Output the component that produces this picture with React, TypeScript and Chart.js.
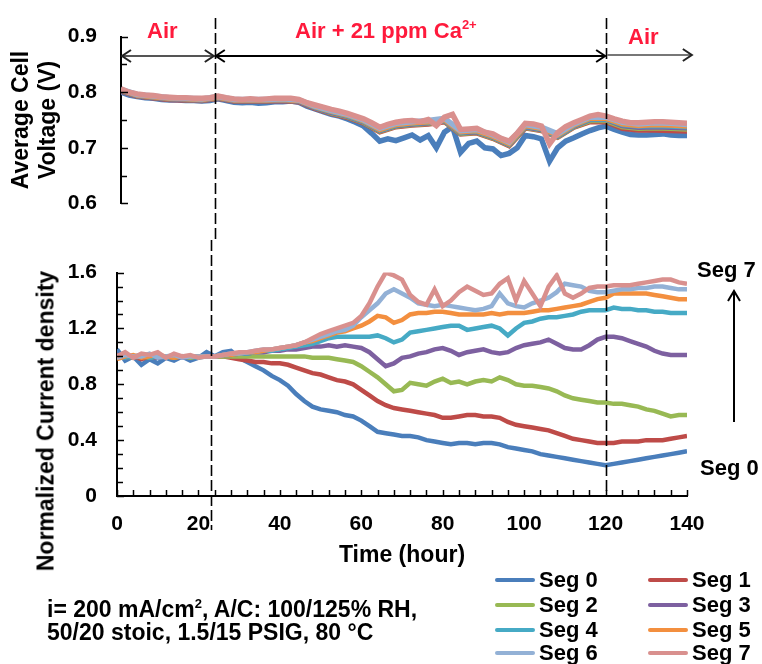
import React, { useEffect, useRef } from 'react';
import { Chart, registerables } from 'chart.js';

Chart.register(...registerables);
Chart.defaults.font.family = "'Liberation Sans', Arial, sans-serif";
Chart.defaults.color = '#000';

// ---------- data ----------
const hours = [0, 2, 4, 6, 8, 10, 12, 14, 16, 18, 20, 22, 24, 26, 28, 30, 32, 34, 36, 38, 40, 42, 44, 46, 48, 50, 52, 54, 56, 58, 60, 62, 64, 66, 68, 70, 72, 74, 76, 78, 80, 82, 84, 86, 88, 90, 92, 94, 96, 98, 100, 102, 104, 106, 108, 110, 112, 114, 116, 118, 120, 122, 124, 126, 128, 130, 132, 134, 136, 138, 140];
const hoursCoarse = [0, 4, 8, 12, 16, 20, 24, 28, 32, 36, 40, 44, 48, 52, 56, 60, 64, 68, 72, 76, 80, 84, 88, 92, 96, 100, 104, 108, 112, 116, 120, 124, 128, 132, 136, 140];

const segNames = ['Seg 0', 'Seg 1', 'Seg 2', 'Seg 3', 'Seg 4', 'Seg 5', 'Seg 6', 'Seg 7'];
const segColors = ['#4a7ebb', '#be4b48', '#98b954', '#7d60a0', '#46aac5', '#f38f3f', '#93b1d6', '#d9908e'];

// Normalized current density (bottom panel), sampled every 2 h
const current0 = [1.05, 0.97, 1.00, 0.94, 0.98, 0.95, 0.99, 0.97, 1.00, 0.97,
  0.99, 1.03, 1.00, 1.03, 1.04, 0.99, 0.96, 0.93, 0.90, 0.86,
  0.83, 0.79, 0.73, 0.68, 0.64, 0.62, 0.61, 0.60, 0.58, 0.57,
  0.54, 0.50, 0.46, 0.45, 0.44, 0.43, 0.43, 0.42, 0.40, 0.39,
  0.38, 0.37, 0.38, 0.38, 0.37, 0.38, 0.38, 0.37, 0.35, 0.34,
  0.33, 0.32, 0.30, 0.29, 0.28, 0.27, 0.26, 0.25, 0.24, 0.23,
  0.22, 0.23, 0.24, 0.25, 0.26, 0.27, 0.28, 0.29, 0.30, 0.31,
  0.32];
const current1 = [1.01, 0.99, 1.00, 0.98, 1.00, 0.99, 1.00, 0.99, 1.00, 1.00,
  1.00, 1.00, 1.00, 1.00, 0.99, 0.98, 0.97, 0.96, 0.96, 0.95,
  0.95, 0.94, 0.92, 0.90, 0.88, 0.87, 0.85, 0.83, 0.82, 0.80,
  0.76, 0.72, 0.68, 0.65, 0.63, 0.62, 0.61, 0.60, 0.59, 0.58,
  0.56, 0.56, 0.57, 0.58, 0.58, 0.57, 0.57, 0.56, 0.53, 0.51,
  0.50, 0.49, 0.48, 0.47, 0.45, 0.43, 0.41, 0.40, 0.39, 0.38,
  0.38, 0.38, 0.39, 0.39, 0.39, 0.40, 0.40, 0.40, 0.41, 0.42,
  0.43];
const current2 = [0.99, 1.00, 0.99, 1.00, 0.99, 1.00, 1.00, 0.99, 1.00, 0.99,
  1.00, 1.00, 1.00, 1.00, 1.00, 1.00, 1.00, 1.00, 1.00, 1.00,
  1.00, 1.00, 1.00, 1.00, 0.99, 0.99, 0.99, 0.98, 0.97, 0.96,
  0.93, 0.89, 0.85, 0.80, 0.75, 0.76, 0.81, 0.80, 0.79, 0.82,
  0.84, 0.81, 0.82, 0.80, 0.82, 0.83, 0.82, 0.85, 0.83, 0.80,
  0.79, 0.79, 0.78, 0.77, 0.75, 0.72, 0.70, 0.69, 0.68, 0.67,
  0.67, 0.66, 0.66, 0.65, 0.64, 0.62, 0.61, 0.59, 0.57, 0.58,
  0.58];
const current3 = [1.00, 1.01, 0.99, 1.00, 1.00, 0.99, 1.00, 1.00, 0.99, 1.00,
  1.00, 1.00, 1.00, 1.01, 1.01, 1.02, 1.02, 1.03, 1.03, 1.04,
  1.04, 1.05, 1.05, 1.06, 1.07, 1.07, 1.08, 1.07, 1.08, 1.07,
  1.06, 1.03, 0.98, 0.93, 0.95, 0.99, 1.00, 1.02, 1.03, 1.05,
  1.06, 1.04, 1.01, 1.03, 1.04, 1.05, 1.03, 1.02, 1.03, 1.06,
  1.08, 1.09, 1.10, 1.12, 1.09, 1.06, 1.05, 1.05, 1.08, 1.12,
  1.14, 1.14, 1.13, 1.11, 1.09, 1.07, 1.04, 1.02, 1.01, 1.01,
  1.01];
const current4 = [1.00, 0.99, 1.00, 1.01, 0.99, 1.00, 0.99, 1.00, 1.00, 1.00,
  0.99, 1.00, 1.00, 1.01, 1.01, 1.02, 1.02, 1.03, 1.04, 1.04,
  1.05, 1.06, 1.07, 1.08, 1.09, 1.11, 1.13, 1.14, 1.14, 1.14,
  1.14, 1.14, 1.15, 1.13, 1.10, 1.12, 1.17, 1.18, 1.19, 1.20,
  1.21, 1.22, 1.22, 1.19, 1.20, 1.21, 1.22, 1.20, 1.15, 1.20,
  1.24, 1.25, 1.27, 1.28, 1.28, 1.29, 1.30, 1.32, 1.33, 1.33,
  1.33, 1.35, 1.34, 1.34, 1.33, 1.33, 1.32, 1.32, 1.31, 1.31,
  1.31];
const current5 = [0.98, 1.00, 1.01, 0.99, 1.00, 1.01, 1.00, 0.99, 1.00, 1.00,
  1.00, 1.00, 1.00, 1.01, 1.01, 1.02, 1.03, 1.03, 1.04, 1.05,
  1.06, 1.07, 1.08, 1.10, 1.11, 1.13, 1.15, 1.17, 1.18, 1.20,
  1.22, 1.25, 1.29, 1.28, 1.24, 1.26, 1.30, 1.31, 1.31, 1.32,
  1.32, 1.31, 1.30, 1.30, 1.30, 1.30, 1.31, 1.30, 1.31, 1.31,
  1.31, 1.32, 1.33, 1.33, 1.34, 1.35, 1.36, 1.37, 1.39, 1.41,
  1.42, 1.45, 1.45, 1.45, 1.45, 1.45, 1.44, 1.43, 1.42, 1.41,
  1.41];
const current6 = [0.99, 1.01, 1.00, 1.00, 1.02, 0.99, 1.00, 1.01, 0.99, 1.00,
  1.00, 1.00, 1.00, 1.01, 1.02, 1.02, 1.03, 1.04, 1.05, 1.05,
  1.06, 1.07, 1.08, 1.10, 1.12, 1.14, 1.16, 1.18, 1.19, 1.22,
  1.28, 1.33, 1.38, 1.45, 1.48, 1.45, 1.42, 1.38, 1.37, 1.36,
  1.37, 1.36, 1.35, 1.34, 1.33, 1.34, 1.36, 1.45, 1.38, 1.36,
  1.35, 1.38, 1.40, 1.42, 1.46, 1.52, 1.51, 1.50, 1.47, 1.46,
  1.46, 1.47, 1.48, 1.48, 1.49, 1.49, 1.50, 1.50, 1.49, 1.48,
  1.48];
const current7 = [1.00, 1.03, 0.99, 1.02, 1.01, 1.03, 0.99, 1.02, 1.00, 1.01,
  0.99, 1.00, 1.00, 1.01, 1.02, 1.03, 1.03, 1.04, 1.05, 1.05,
  1.06, 1.07, 1.08, 1.10, 1.13, 1.16, 1.18, 1.20, 1.22, 1.24,
  1.29, 1.38, 1.50, 1.60, 1.58, 1.55, 1.44, 1.39, 1.37, 1.48,
  1.36, 1.40, 1.46, 1.50, 1.47, 1.44, 1.45, 1.52, 1.56, 1.40,
  1.54, 1.45, 1.36, 1.50, 1.58, 1.45, 1.42, 1.45, 1.49, 1.50,
  1.50, 1.51, 1.51, 1.51, 1.52, 1.53, 1.54, 1.55, 1.55, 1.53,
  1.52];

// Average cell voltage (top panel): Seg 0 and Seg 7 every 2 h, others every 4 h
const voltage0 = [0.800, 0.795, 0.792, 0.790, 0.789, 0.787, 0.786, 0.786, 0.785, 0.785,
  0.784, 0.785, 0.788, 0.785, 0.782, 0.781, 0.782, 0.780, 0.781, 0.783,
  0.783, 0.784, 0.782, 0.775, 0.770, 0.765, 0.760, 0.757, 0.752, 0.746,
  0.739, 0.726, 0.712, 0.716, 0.713, 0.718, 0.723, 0.714, 0.722, 0.700,
  0.728, 0.738, 0.692, 0.708, 0.712, 0.700, 0.698, 0.686, 0.690, 0.700,
  0.722, 0.720, 0.716, 0.676, 0.700, 0.712, 0.718, 0.725, 0.731, 0.736,
  0.739, 0.733, 0.728, 0.724, 0.723, 0.723, 0.724, 0.725, 0.723, 0.722,
  0.722];
const voltage7 = [0.806, 0.800, 0.797, 0.795, 0.794, 0.792, 0.791, 0.790, 0.790, 0.789,
  0.789, 0.790, 0.793, 0.790, 0.788, 0.787, 0.788, 0.787, 0.788, 0.789,
  0.789, 0.789, 0.787, 0.781, 0.777, 0.773, 0.769, 0.766, 0.762, 0.757,
  0.752, 0.745, 0.737, 0.742, 0.746, 0.748, 0.749, 0.747, 0.751, 0.740,
  0.755, 0.760, 0.733, 0.734, 0.735, 0.728, 0.725, 0.717, 0.712, 0.726,
  0.744, 0.743, 0.739, 0.707, 0.727, 0.738, 0.745, 0.751, 0.757, 0.760,
  0.757, 0.752, 0.748, 0.745, 0.745, 0.746, 0.747, 0.747, 0.746, 0.745,
  0.744];
const voltage1 = [0.802, 0.793, 0.790, 0.787, 0.786, 0.785, 0.789, 0.784, 0.784, 0.784, 0.785, 0.783,
  0.771, 0.762, 0.755, 0.745, 0.729, 0.738, 0.741, 0.743, 0.747, 0.725, 0.727, 0.717, 0.704, 0.736, 0.731, 0.719, 0.737, 0.747, 0.747, 0.735, 0.732, 0.732, 0.731, 0.730];
const voltage2 = [0.803, 0.794, 0.791, 0.788, 0.787, 0.786, 0.790, 0.785, 0.785, 0.785, 0.786, 0.784,
  0.772, 0.763, 0.756, 0.746, 0.730, 0.739, 0.742, 0.744, 0.748, 0.726, 0.728, 0.718, 0.705, 0.737, 0.732, 0.720, 0.738, 0.749, 0.749, 0.738, 0.735, 0.736, 0.735, 0.734];
const voltage3 = [0.803, 0.794, 0.791, 0.788, 0.787, 0.786, 0.790, 0.785, 0.785, 0.785, 0.786, 0.784,
  0.772, 0.764, 0.757, 0.747, 0.731, 0.740, 0.743, 0.745, 0.749, 0.727, 0.729, 0.719, 0.706, 0.738, 0.733, 0.721, 0.739, 0.751, 0.751, 0.740, 0.737, 0.738, 0.737, 0.736];
const voltage4 = [0.804, 0.795, 0.792, 0.789, 0.788, 0.787, 0.791, 0.786, 0.786, 0.786, 0.787, 0.785,
  0.773, 0.765, 0.758, 0.748, 0.732, 0.741, 0.744, 0.746, 0.750, 0.728, 0.730, 0.720, 0.707, 0.739, 0.734, 0.722, 0.740, 0.752, 0.752, 0.742, 0.739, 0.740, 0.739, 0.738];
const voltage5 = [0.804, 0.795, 0.792, 0.789, 0.788, 0.787, 0.791, 0.786, 0.786, 0.786, 0.787, 0.785,
  0.774, 0.766, 0.759, 0.749, 0.733, 0.742, 0.745, 0.747, 0.751, 0.729, 0.731, 0.721, 0.708, 0.740, 0.735, 0.723, 0.741, 0.753, 0.753, 0.743, 0.740, 0.742, 0.741, 0.739];
const voltage6 = [0.805, 0.796, 0.793, 0.790, 0.789, 0.788, 0.792, 0.787, 0.787, 0.787, 0.788, 0.786,
  0.775, 0.767, 0.760, 0.750, 0.735, 0.744, 0.747, 0.749, 0.753, 0.731, 0.733, 0.723, 0.710, 0.742, 0.737, 0.725, 0.743, 0.755, 0.755, 0.746, 0.743, 0.745, 0.744, 0.742];

const currentSeries = [current0, current1, current2, current3, current4, current5, current6, current7];
const voltageSeries = [voltage0, voltage1, voltage2, voltage3, voltage4, voltage5, voltage6, voltage7];
const voltageHours = [hours, hoursCoarse, hoursCoarse, hoursCoarse, hoursCoarse, hoursCoarse, hoursCoarse, hours];

const phaseBoundaries = [23.2, 120];
const phaseArrowEnd = 141.2;

const FONT = "'Liberation Sans', Arial, sans-serif";
const RED = '#ff1a3c';

const isMultiple = (v: number, step: number) => Math.abs(v / step - Math.round(v / step)) < 1e-6;

function makeDatasets(series: number[][], xs: number[][], width: number) {
  return series.map((vals, i) => ({
    label: segNames[i],
    data: vals.map((v, j) => ({ x: xs[i][j], y: v })),
    borderColor: segColors[i],
    backgroundColor: segColors[i],
    borderWidth: width,
    pointRadius: 0,
    tension: 0,
    fill: false,
    order: 7 - i,
  }));
}

function drawInsideTicks(chart: any, yMajor: number, withX: boolean) {
  const ctx = chart.ctx;
  const { left, bottom } = chart.chartArea;
  ctx.save();
  ctx.strokeStyle = '#000';
  ctx.lineWidth = 1.5;
  const ys = chart.scales.y;
  ys.ticks.forEach((t: any) => {
    const p = Math.round(ys.getPixelForValue(t.value)) + 0.5;
    const len = isMultiple(t.value, yMajor) ? 7 : 6;
    ctx.beginPath();
    ctx.moveTo(left, p);
    ctx.lineTo(left + len, p);
    ctx.stroke();
  });
  if (withX) {
    const xs = chart.scales.x;
    xs.ticks.forEach((t: any) => {
      const p = Math.round(xs.getPixelForValue(t.value)) + 0.5;
      ctx.beginPath();
      ctx.moveTo(p, bottom);
      ctx.lineTo(p, bottom - 6);
      ctx.stroke();
    });
  }
  ctx.restore();
}

function drawDashed(chart: any, x: number, y0: number, y1: number) {
  const ctx = chart.ctx;
  const px = Math.round(chart.scales.x.getPixelForValue(x)) + 0.5;
  ctx.save();
  ctx.strokeStyle = '#000';
  ctx.lineWidth = 1.6;
  ctx.setLineDash([11, 4]);
  ctx.beginPath();
  ctx.moveTo(px, y0);
  ctx.lineTo(px, y1);
  ctx.stroke();
  ctx.restore();
}

function arrowHead(ctx: any, x: number, y: number, dir: number) {
  ctx.beginPath();
  ctx.moveTo(x - dir * 9, y - 6);
  ctx.lineTo(x, y);
  ctx.lineTo(x - dir * 9, y + 6);
  ctx.stroke();
}

const topOverlay = {
  id: 'topOverlay',
  afterDraw(chart: any) {
    drawInsideTicks(chart, 0.1, false);
    phaseBoundaries.forEach((b) => drawDashed(chart, b, 18, 240));
    const ctx = chart.ctx;
    const xs = chart.scales.x;
    const a0 = xs.getPixelForValue(0);
    const a1 = xs.getPixelForValue(phaseBoundaries[0]);
    const a2 = xs.getPixelForValue(phaseBoundaries[1]);
    const a3 = xs.getPixelForValue(phaseArrowEnd);
    ctx.save();
    ctx.lineWidth = 2;
    ctx.lineJoin = 'miter';
    ctx.strokeStyle = '#555';
    ctx.beginPath(); ctx.moveTo(a0 + 1, 56); ctx.lineTo(a1 - 1, 56); ctx.stroke();
    ctx.strokeStyle = '#222';
    arrowHead(ctx, a0 + 1, 56, -1);
    arrowHead(ctx, a1 - 1, 56, 1);
    ctx.strokeStyle = '#000';
    ctx.beginPath(); ctx.moveTo(a1 + 1, 56); ctx.lineTo(a2 - 1, 56); ctx.stroke();
    arrowHead(ctx, a1 + 1, 56, -1);
    arrowHead(ctx, a2 - 1, 56, 1);
    ctx.strokeStyle = '#777';
    ctx.beginPath(); ctx.moveTo(a2 + 1, 55); ctx.lineTo(a3, 55); ctx.stroke();
    ctx.strokeStyle = '#222';
    arrowHead(ctx, a3, 55, 1);
    ctx.restore();
  },
};

const bottomOverlay = {
  id: 'bottomOverlay',
  afterDraw(chart: any) {
    drawInsideTicks(chart, 0.4, true);
    drawDashed(chart, phaseBoundaries[0], 0, 290);
    drawDashed(chart, phaseBoundaries[1], 0, 257);
  },
};

const tickFont = { family: FONT, size: 21, weight: 'bold' as const };
const titleFont = { family: FONT, size: 23, weight: 'bold' as const };

function topConfig(): any {
  return {
    type: 'line',
    data: { datasets: makeDatasets(voltageSeries, voltageHours, 5.5) },
    plugins: [topOverlay],
    options: {
      responsive: false,
      animation: false,
      events: [],
      layout: { padding: { top: 21, right: 75, bottom: 29, left: 0 } },
      plugins: { legend: { display: false }, tooltip: { enabled: false } },
      scales: {
        x: { type: 'linear', min: 0, max: 140, display: false },
        y: {
          type: 'linear',
          min: 0.6,
          max: 0.9,
          afterFit: (s: any) => { s.width = 121; },
          grid: { display: false, drawTicks: false },
          border: { display: true, color: '#000', width: 2 },
          ticks: {
            stepSize: 0.05,
            autoSkip: false,
            padding: 24,
            font: tickFont,
            color: '#000',
            callback: (v: any) => (isMultiple(Number(v), 0.1) ? Number(v).toFixed(1) : ''),
          },
          title: {
            display: true,
            text: ['Average Cell', 'Voltage (V)'],
            font: { ...titleFont, lineHeight: '27px' },
            color: '#000',
            padding: { top: 8.5, bottom: 0 },
          },
        },
      },
    },
  };
}

function bottomConfig(): any {
  return {
    type: 'line',
    data: { datasets: makeDatasets(currentSeries, currentSeries.map(() => hours), 4.5) },
    plugins: [bottomOverlay],
    options: {
      responsive: false,
      animation: false,
      events: [],
      layout: { padding: { top: 21, right: 75, bottom: 0, left: 0 } },
      plugins: { legend: { display: false }, tooltip: { enabled: false } },
      scales: {
        x: {
          type: 'linear',
          min: 0,
          max: 140,
          afterFit: (s: any) => { s.height = 73; },
          grid: { display: false, drawTicks: false },
          border: { display: true, color: '#000', width: 2 },
          ticks: {
            stepSize: 4,
            autoSkip: false,
            maxRotation: 0,
            padding: 16,
            font: tickFont,
            color: '#000',
            callback: (v: any) => (isMultiple(Number(v), 20) ? String(Number(v)) : ''),
          },
          title: {
            display: true,
            text: 'Time (hour)',
            font: titleFont,
            color: '#000',
            padding: 0,
          },
        },
        y: {
          type: 'linear',
          min: 0,
          max: 1.6,
          afterFit: (s: any) => { s.width = 117; },
          grid: { display: false, drawTicks: false },
          border: { display: true, color: '#000', width: 2 },
          ticks: {
            stepSize: 0.1,
            autoSkip: false,
            padding: 20,
            font: tickFont,
            color: '#000',
            callback: (v: any) => {
              const n = Number(v);
              if (!isMultiple(n, 0.4)) return '';
              return n === 0 ? '0' : n.toFixed(1);
            },
          },
        },
      },
    },
  };
}

const textBase: React.CSSProperties = {
  position: 'absolute',
  fontFamily: FONT,
  fontWeight: 'bold',
  fontSize: 22,
  lineHeight: '22px',
  whiteSpace: 'nowrap',
  color: '#000',
};

const supStyle: React.CSSProperties = { fontSize: 13, position: 'relative', top: -9 };

const legendRows = [579.5, 604.5, 629.5, 652.5];
const legendCols = [{ line: 495, text: 539 }, { line: 648, text: 692 }];

export default function App() {
  const topRef = useRef<HTMLCanvasElement>(null);
  const botRef = useRef<HTMLCanvasElement>(null);

  useEffect(() => {
    const top = new Chart(topRef.current as HTMLCanvasElement, topConfig());
    const bot = new Chart(botRef.current as HTMLCanvasElement, bottomConfig());
    return () => {
      top.destroy();
      bot.destroy();
    };
  }, []);

  return (
    <div style={{ position: 'absolute', left: 0, top: 0, width: 762, height: 664, overflow: 'hidden', background: '#fff' }}>
      <canvas ref={topRef} width={762} height={240} style={{ position: 'absolute', left: 0, top: 0 }} />
      <canvas ref={botRef} width={762} height={329} style={{ position: 'absolute', left: 0, top: 240 }} />

      {/* phase labels */}
      <div style={{ ...textBase, color: RED, left: 147, top: 20 }}>Air</div>
      <div style={{ ...textBase, color: RED, left: 295, top: 20 }}>
        Air + 21 ppm Ca<span style={supStyle}>2+</span>
      </div>
      <div style={{ ...textBase, color: RED, left: 628, top: 26 }}>Air</div>

      {/* bottom y-axis title */}
      <div
        style={{
          ...textBase,
          fontSize: 23,
          lineHeight: '23px',
          left: 46,
          top: 421,
          transform: 'translate(-50%, -50%) rotate(-90deg)',
        }}
      >
        Normalized Current density
      </div>

      {/* Seg 7 / Seg 0 trend annotation */}
      <div style={{ ...textBase, left: 697, top: 259 }}>Seg 7</div>
      <div style={{ ...textBase, left: 700, top: 457 }}>Seg 0</div>
      <svg width={762} height={664} style={{ position: 'absolute', left: 0, top: 0, pointerEvents: 'none' }}>
        <line x1={734} y1={422} x2={734} y2={291} stroke="#000" strokeWidth={2} />
        <polyline points="728,301 734,291 740,301" fill="none" stroke="#000" strokeWidth={2} />
      </svg>

      {/* operating conditions */}
      <div style={{ ...textBase, fontSize: 23, lineHeight: '23px', left: 47, top: 598 }}>
        i= 200 mA/cm<span style={supStyle}>2</span>, A/C: 100/125% RH,
      </div>
      <div style={{ ...textBase, fontSize: 23, lineHeight: '23px', left: 47, top: 621 }}>50/20 stoic, 1.5/15 PSIG, 80 °C</div>

      {/* legend */}
      {segNames.map((name, i) => {
        const col = legendCols[i % 2];
        const cy = legendRows[Math.floor(i / 2)];
        return (
          <React.Fragment key={name}>
            <div style={{ position: 'absolute', left: col.line, top: cy - 2, width: 40, height: 4, background: segColors[i], borderRadius: 2 }} />
            <div style={{ ...textBase, left: col.text, top: cy - 10.7 }}>{name}</div>
          </React.Fragment>
        );
      })}
    </div>
  );
}
